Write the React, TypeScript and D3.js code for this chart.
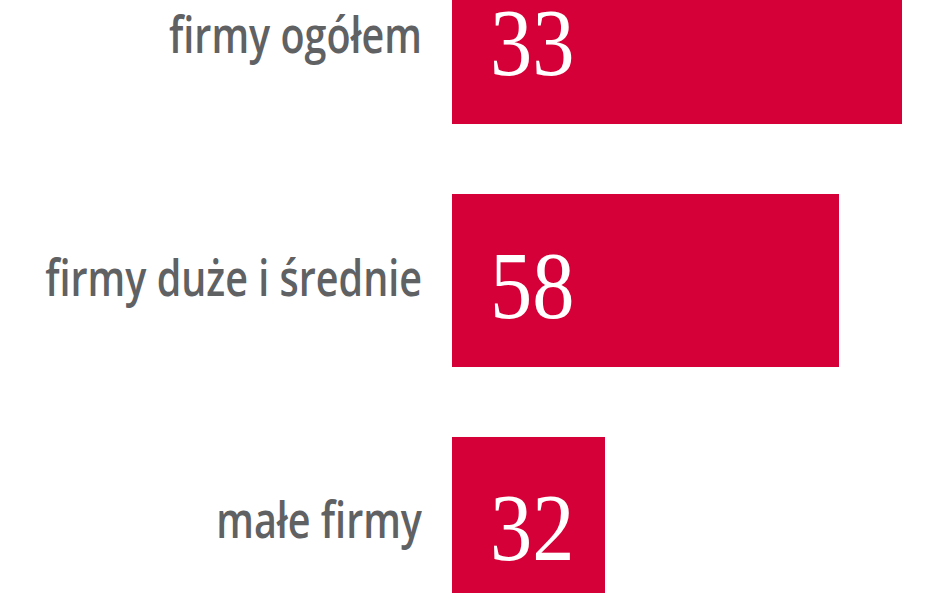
import { useEffect, useRef } from "react";
import * as d3 from "d3";

const categories = ["firmy ogółem", "firmy duże i średnie", "małe firmy"];
const valueLabels = ["33", "58", "32"];
// bar lengths as drawn in the picture (share of the longest bar, %)
const barLengths = [100, 86, 34];

const W = 948;
const H = 593;

export default function App() {
  const ref = useRef<SVGSVGElement>(null);
  useEffect(() => {
    if (!ref.current) return;
    const svg = d3.select(ref.current);
    svg.selectAll("*").remove();

    const x = d3.scaleLinear().domain([0, 100]).range([452, 902]);
    const y = d3.scaleBand<string>().domain(categories).range([-49, 610]).paddingInner(0.288);

    const rows = categories.map((c, i) => ({ c, v: barLengths[i], label: valueLabels[i] }));

    svg.append("rect").attr("width", W).attr("height", H).attr("fill", "#fff");

    svg.selectAll("rect.bar")
      .data(rows)
      .join("rect")
      .attr("class", "bar")
      .attr("x", x(0))
      .attr("y", (d) => y(d.c)!)
      .attr("width", (d) => x(d.v) - x(0))
      .attr("height", y.bandwidth())
      .attr("fill", "#d50037");

    const mid = (c: string) => y(c)! + y.bandwidth() / 2;

    svg.selectAll("text.cat")
      .data(rows)
      .join("text")
      .attr("class", "cat")
      .attr("transform", (d) => `translate(422,${mid(d.c) + 15}) scale(0.79,1)`)
      .attr("text-anchor", "end")
      .attr("font-family", "'Open Sans', sans-serif")
      .attr("font-weight", 600)
      .attr("font-size", 50)
      .attr("fill", "#606163")
      .text((d) => d.c);

    svg.selectAll("text.val")
      .data(rows)
      .join("text")
      .attr("class", "val")
      .attr("transform", (d) => `translate(${x(0) + 38},${mid(d.c) + 37}) scale(0.88,1)`)
      .attr("font-family", "'Liberation Serif', serif")
      .attr("font-size", 96)
      .attr("fill", "#fff")
      .text((d) => d.label);
  }, []);
  return (
    <svg
      ref={ref}
      width={W}
      height={H}
      style={{ position: "absolute", left: 0, top: 0, display: "block" }}
    />
  );
}
